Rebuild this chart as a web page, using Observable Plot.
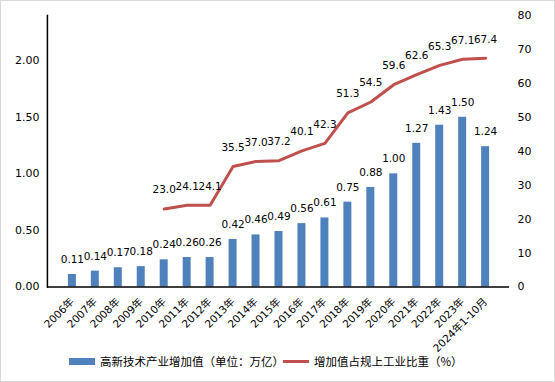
<!DOCTYPE html>
<html>
<head>
<meta charset="utf-8">
<script src="https://cdn.jsdelivr.net/npm/d3@7"></script>
<script src="https://cdn.jsdelivr.net/npm/@observablehq/plot@0.6"></script>
<style>
  html, body { margin: 0; padding: 0; background: #fff; }
  #wrap { position: relative; width: 555px; height: 382px; box-sizing: border-box; border: 1px solid #d9d9d9; overflow: hidden; font-family: "DejaVu Sans", "Noto Sans CJK SC", sans-serif; }
  #chart { position: absolute; left: -1px; top: -1px; }
  #legend { position: absolute; left: 0; top: 352px; width: 100%; font-size: 11.5px; color: #000; font-family: "Noto Sans CJK SC", sans-serif; }
  .li { position: absolute; display: flex; align-items: center; white-space: nowrap; }
  .sw { display: inline-block; margin-right: 5px; }
</style>
</head>
<body>
<div id="wrap">
  <div id="chart"></div>
  <div id="legend">
    <div class="li" style="left:68px;top:0;"><span class="sw" style="width:26px;height:7px;background:#4F81BD;"></span><span>高新技术产业增加值（单位：万亿）</span></div>
    <div class="li" style="left:282px;top:0;"><span class="sw" style="width:26px;height:3px;background:#C0504D;"></span><span>增加值占规上工业比重（%）</span></div>
  </div>
</div>
<script>
const categories = ["2006年","2007年","2008年","2009年","2010年","2011年","2012年","2013年","2014年","2015年","2016年","2017年","2018年","2019年","2020年","2021年","2022年","2023年","2024年1-10月"];
const valueAdded = [0.11,0.14,0.17,0.18,0.24,0.26,0.26,0.42,0.46,0.49,0.56,0.61,0.75,0.88,1.00,1.27,1.43,1.50,1.24];
const sharePct = [null,null,null,null,23.0,24.1,24.1,35.5,37.0,37.2,40.1,42.3,51.3,54.5,59.6,62.6,65.3,67.1,67.4];
const leftTicks = [0,0.5,1,1.5,2];
const rightTicks = [0,10,20,30,40,50,60,70,80];

const leftMax = 2.4, rightMax = 80, k = leftMax / rightMax;
const bars = categories.map((c,i) => ({cat: c, v: valueAdded[i]}));
const line = categories.map((c,i) => ({cat: c, p: sharePct[i]})).filter(d => d.p != null);

const chart = Plot.plot({
  width: 555,
  height: 382,
  marginLeft: 47,
  marginRight: 45,
  marginTop: 15,
  marginBottom: 95,
  style: {fontFamily: '"DejaVu Sans", "Noto Sans CJK SC", sans-serif', fontSize: "11px", color: "#000", background: "transparent"},
  x: {domain: categories, padding: 0.66, label: null},
  y: {domain: [0, leftMax], label: null},
  marks: [
    Plot.barY(bars, {x: "cat", y: "v", fill: "#4F81BD"}),
    Plot.text(bars, {x: "cat", y: "v", text: d => d.v.toFixed(2), dy: -15, fontSize: 10.5, fill: "#000"}),
    Plot.line(line, {x: "cat", y: d => d.p * k, stroke: "#C0504D", strokeWidth: 3}),
    Plot.text(line, {x: "cat", y: d => d.p * k, text: d => d.p.toFixed(1), dy: -19, fontSize: 10.5, fill: "#000"}),
    Plot.ruleY([0], {stroke: "#000", strokeWidth: 1.5}),
    Plot.frame({anchor: "left", stroke: "#000", strokeWidth: 1.5}),
    Plot.axisY(leftTicks, {anchor: "left", tickSize: 0, tickPadding: 8, tickFormat: d3.format(".2f"), label: null, fontSize: 11}),
    Plot.axisY(rightTicks.map(t => t * k), {anchor: "right", tickSize: 0, tickPadding: 8, tickFormat: d => String(Math.round(d / k)), label: null, fontSize: 11}),
    Plot.axisX({tickRotate: -45, tickSize: 0, tickPadding: 13, label: null, fontSize: 10.5})
  ]
});
document.getElementById("chart").appendChild(chart);
</script>
</body>
</html>
